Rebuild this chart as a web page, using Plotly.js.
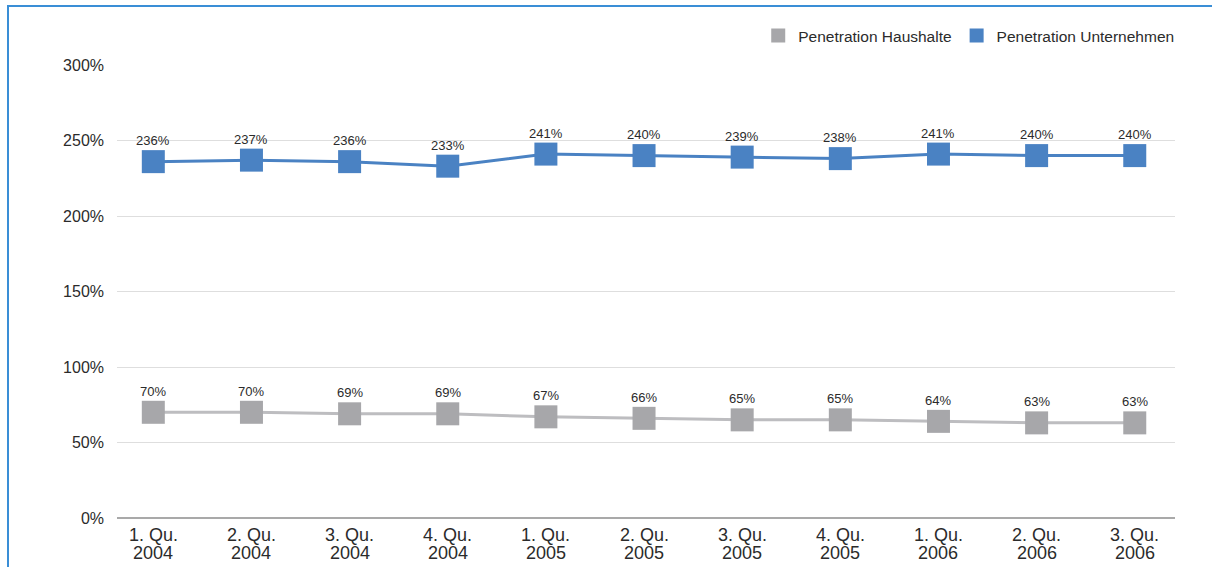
<!DOCTYPE html>
<html>
<head>
<meta charset="utf-8">
<script src="https://cdn.plot.ly/plotly-3.0.1.min.js"></script>
<style>
  html, body { margin: 0; padding: 0; background: #fff; }
  #wrap { position: relative; width: 1212px; height: 567px; overflow: hidden; }
  #chart { position: absolute; left: 0; top: 0; width: 1212px; height: 567px; }
  #frame { position: absolute; left: 7px; top: 5px; width: 1220px; height: 600px;
           border-left: 2px solid #3a8ed6; border-top: 2px solid #3a8ed6; pointer-events: none; }
</style>
</head>
<body>
<div id="wrap">
  <div id="chart"></div>
  <div id="frame"></div>
</div>
<script>
const categories  = ["1. Qu. 2004", "2. Qu. 2004", "3. Qu. 2004", "4. Qu. 2004",
                     "1. Qu. 2005", "2. Qu. 2005", "3. Qu. 2005", "4. Qu. 2005",
                     "1. Qu. 2006", "2. Qu. 2006", "3. Qu. 2006"];
const quarterText = ["1. Qu.", "2. Qu.", "3. Qu.", "4. Qu.", "1. Qu.", "2. Qu.", "3. Qu.", "4. Qu.", "1. Qu.", "2. Qu.", "3. Qu."];
const yearText    = ["2004", "2004", "2004", "2004", "2005", "2005", "2005", "2005", "2006", "2006", "2006"];
const haushalte   = [70, 70, 69, 69, 67, 66, 65, 65, 64, 63, 63];
const unternehmen = [236, 237, 236, 233, 241, 240, 239, 238, 241, 240, 240];
const yTickVals   = [0, 50, 100, 150, 200, 250, 300];
const yTickText   = ["0%", "50%", "100%", "150%", "200%", "250%", "300%"];
const seriesNames = ["Penetration Haushalte", "Penetration Unternehmen"];

const gray = "#a7a7aa", grayLine = "#bdbdc0", blue = "#4a82c3";
const fontFam = "Liberation Sans, Arial, Helvetica, sans-serif";
const textCol = "#2b2b2b";

const mkTrace = (vals, color, lineColor) => ({
  x: categories, y: vals, type: "scatter", mode: "lines+markers",
  line: { color: lineColor, width: 3 },
  marker: { symbol: "square", size: 23, color: color },
  showlegend: false, hoverinfo: "skip", cliponaxis: false
});

const legendTrace = (name, color) => ({
  x: [null], y: [null], type: "scatter", mode: "markers", name: name,
  marker: { symbol: "square", size: 14, color: color }, showlegend: true
});

const data = [
  mkTrace(haushalte, gray, grayLine),
  mkTrace(unternehmen, blue, blue),
  legendTrace(seriesNames[0], gray),
  legendTrace(seriesNames[1], blue)
];

const annotations = [];
[haushalte, unternehmen].forEach(vals => {
  vals.forEach((v, i) => annotations.push({
    x: categories[i], y: v, xref: "x", yref: "y", yshift: 21,
    text: v + "%", showarrow: false, yanchor: "middle",
    font: { family: fontFam, size: 13, color: textCol }
  }));
});
categories.forEach((c, i) => {
  annotations.push({
    x: c, xref: "x", y: -0.0375, yref: "paper", text: quarterText[i],
    showarrow: false, yanchor: "middle", font: { family: fontFam, size: 18, color: textCol }
  });
  annotations.push({
    x: c, xref: "x", y: -0.0775, yref: "paper", text: yearText[i],
    showarrow: false, yanchor: "middle", font: { family: fontFam, size: 18, color: textCol }
  });
});

const layout = {
  width: 1212, height: 567,
  margin: { l: 117, r: 37, t: 65, b: 49 },
  paper_bgcolor: "#fff", plot_bgcolor: "#fff",
  font: { family: fontFam, color: textCol },
  xaxis: {
    type: "category", range: [-0.37, 10.41],
    showgrid: false, showline: false, zeroline: false,
    ticks: "", showticklabels: false
  },
  yaxis: {
    range: [0, 300], tickvals: yTickVals, ticktext: yTickText,
    showgrid: true, gridcolor: "#dedede", gridwidth: 1,
    zeroline: true, zerolinecolor: "#a9a9a9", zerolinewidth: 1.5,
    showline: false, ticks: "", ticklabelstandoff: 12,
    tickfont: { size: 16, color: textCol }
  },
  legend: {
    orientation: "h", x: 1.004, xanchor: "right", y: 1.064, yanchor: "middle",
    font: { size: 15.5, color: textCol }, bgcolor: "rgba(0,0,0,0)",
    itemwidth: 30, traceorder: "normal"
  },
  annotations: annotations,
  showlegend: true
};

Plotly.newPlot("chart", data, layout, { displayModeBar: false, staticPlot: true });
</script>
</body>
</html>
